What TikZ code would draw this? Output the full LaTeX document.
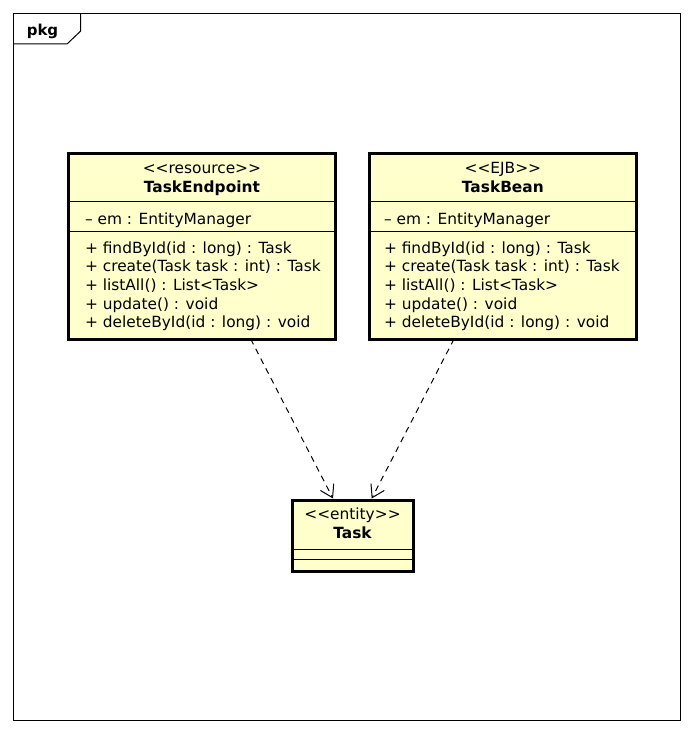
\documentclass[tikz,border=0pt]{standalone}
\usepackage{fontspec}
\setmainfont{DejaVu Sans}
\usetikzlibrary{arrows.meta}
\definecolor{umlyellow}{HTML}{FFFFCC}
\tikzset{
  umlbox/.style={draw=black, line width=3pt, fill=umlyellow, rectangle, inner sep=0pt, outer sep=0pt, anchor=north west},
  sepline/.style={draw=black, line width=1pt},
  txt/.style={inner sep=0pt, outer sep=0pt, font=\fontsize{15.4}{18}\selectfont},
  member/.style={txt, anchor=base west},
  ctxt/.style={txt, anchor=base},
  btxt/.style={txt, anchor=base, font=\fontsize{15.4}{18}\selectfont\bfseries},
  dep/.style={draw=black, line width=1pt, dash pattern=on 6pt off 5pt, -{Straight Barb[length=12pt,width=15pt]}},
}
\begin{document}
\begin{tikzpicture}[x=1pt,y=-1pt]
\useasboundingbox (0,0) rectangle (693,733);
% package frame
\node[draw=black, line width=1pt, rectangle, inner sep=0pt, outer sep=0pt, minimum width=667pt, minimum height=706pt, anchor=north west] (frame) at (13,14) {};
\draw[line width=1pt] (frame.north west) ++(0,-30pt) -- ++(54pt,0) -- ++(13.7pt,13pt) -- ++(0,17pt);
\node[txt, anchor=base, font=\fontsize{15}{18}\selectfont\bfseries] (pkg) at (42.5,35.5) {pkg};

% TaskEndpoint
\node[umlbox, minimum width=266.3pt, minimum height=185.2pt] (te) at (68.7,153.8) {};
\draw[sepline] ([yshift=-47.9pt]te.north west) -- ([yshift=-47.9pt]te.north east);
\draw[sepline] ([yshift=-77.9pt]te.north west) -- ([yshift=-77.9pt]te.north east);
\node[ctxt] (te-st) at (201.9,173.5) {<{}<resource>{}>};
\node[btxt] (te-nm) at (201.9,192.5) {TaskEndpoint};
\node[member] (te-a1) at (85,224) {– em : EntityManager};
\node[member] (te-m1) at (85,253.3) {+ findById(id : long) : Task};
\node[member] (te-m2) at (85,271.9) {+ create(Task task : int) : Task};
\node[member] (te-m3) at (85,290.5) {+ listAll() : List<Task>};
\node[member] (te-m4) at (85,309.1) {+ update() : void};
\node[member] (te-m5) at (85,327.7) {+ deleteById(id : long) : void};

% TaskBean
\node[umlbox, minimum width=266.3pt, minimum height=185.2pt] (tb) at (369.7,153.8) {};
\draw[sepline] ([yshift=-47.9pt]tb.north west) -- ([yshift=-47.9pt]tb.north east);
\draw[sepline] ([yshift=-77.9pt]tb.north west) -- ([yshift=-77.9pt]tb.north east);
\node[ctxt] (tb-st) at (502.85,173.5) {<{}<EJB>{}>};
\node[btxt] (tb-nm) at (502.85,192.5) {TaskBean};
\node[member] (tb-a1) at (384,224) {– em : EntityManager};
\node[member] (tb-m1) at (384,253.3) {+ findById(id : long) : Task};
\node[member] (tb-m2) at (384,271.9) {+ create(Task task : int) : Task};
\node[member] (tb-m3) at (384,290.5) {+ listAll() : List<Task>};
\node[member] (tb-m4) at (384,309.1) {+ update() : void};
\node[member] (tb-m5) at (384,327.7) {+ deleteById(id : long) : void};

% Task
\node[umlbox, minimum width=121pt, minimum height=71.2pt] (task) at (292,500.5) {};
\draw[sepline] ([yshift=-48.5pt]task.north west) -- ([yshift=-48.5pt]task.north east);
\draw[sepline] ([yshift=-58.5pt]task.north west) -- ([yshift=-58.5pt]task.north east);
\node[ctxt] (task-st) at (352.5,519.5) {<{}<entity>{}>};
\node[btxt] (task-nm) at (352.5,538.5) {Task};

% dependencies
\draw[dep] ([xshift=48.8pt]te.south) -- ([xshift=-19.5pt,yshift=2pt]task.north);
\draw[dep] ([xshift=-48.85pt]tb.south) -- ([xshift=19.2pt,yshift=2pt]task.north);
\end{tikzpicture}
\end{document}
